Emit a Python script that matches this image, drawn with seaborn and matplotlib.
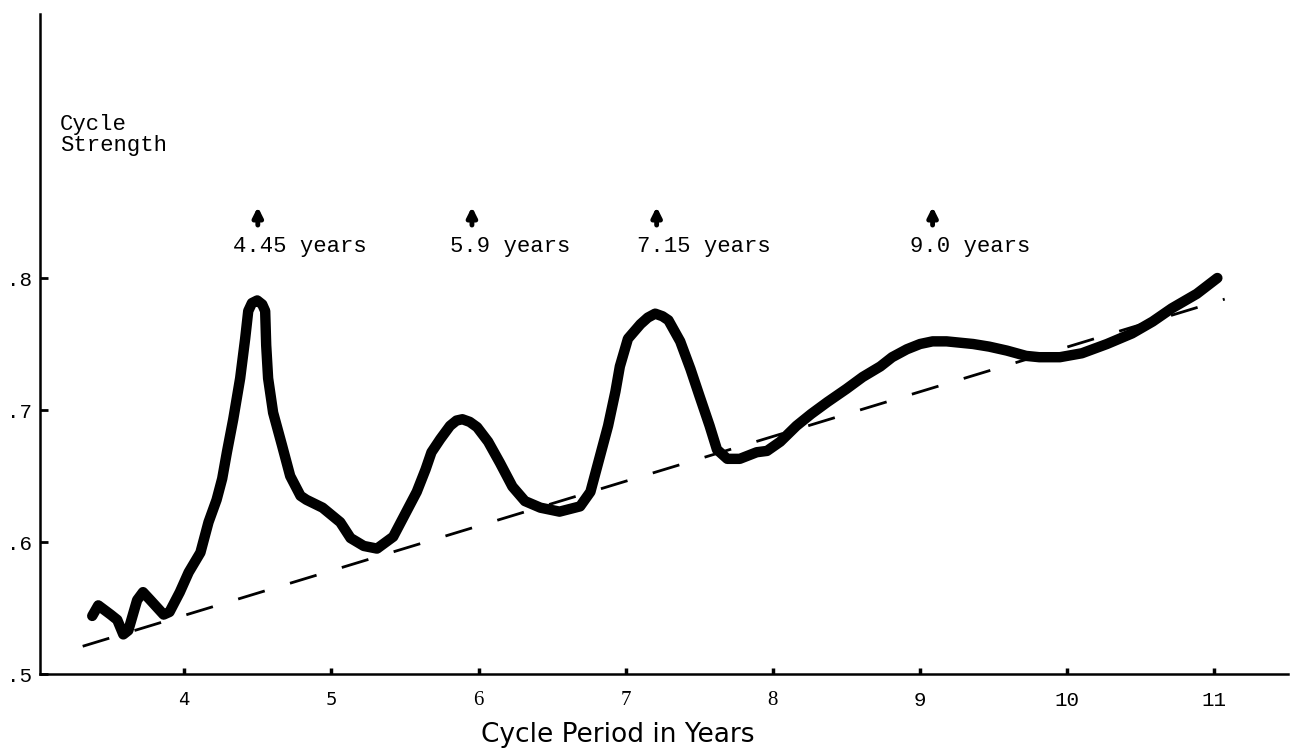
import matplotlib
matplotlib.use('Agg')
import matplotlib.pyplot as plt
import seaborn as sns

# values
period = [3.375, 3.416, 3.50, 3.545, 3.586, 3.62, 3.68, 3.72, 3.77, 3.86, 3.90, 3.97,
          4.03, 4.11, 4.165, 4.22, 4.258, 4.29, 4.333, 4.38, 4.414, 4.435, 4.46, 4.496,
          4.53, 4.55, 4.557, 4.57, 4.604, 4.665, 4.72, 4.79, 4.83, 4.94, 5.06, 5.13,
          5.22, 5.31, 5.42, 5.50, 5.58, 5.64, 5.68, 5.74, 5.806, 5.85, 5.89, 5.94,
          5.99, 6.065, 6.145, 6.23, 6.315, 6.42, 6.55, 6.69, 6.76, 6.82, 6.88, 6.93,
          6.96, 7.015, 7.10, 7.15, 7.20, 7.25, 7.29, 7.37, 7.44, 7.50, 7.57, 7.62,
          7.69, 7.775, 7.89, 7.96, 8.05, 8.16, 8.26, 8.37, 8.50, 8.61, 8.73, 8.81,
          8.91, 9.00, 9.085, 9.18, 9.36, 9.47, 9.59, 9.72, 9.81, 9.95, 10.10, 10.27,
          10.44, 10.58, 10.71, 10.88, 11.02]
strength = [0.544, 0.552, 0.545, 0.541, 0.530, 0.533, 0.556, 0.562, 0.556, 0.545, 0.547, 0.562,
            0.577, 0.592, 0.615, 0.632, 0.648, 0.668, 0.693, 0.724, 0.754, 0.775, 0.781, 0.783,
            0.780, 0.775, 0.749, 0.724, 0.698, 0.673, 0.650, 0.635, 0.632, 0.626, 0.615, 0.603,
            0.597, 0.595, 0.604, 0.621, 0.638, 0.655, 0.668, 0.678, 0.688, 0.692, 0.693, 0.691,
            0.687, 0.676, 0.660, 0.642, 0.631, 0.626, 0.623, 0.627, 0.638, 0.663, 0.688, 0.714,
            0.733, 0.754, 0.765, 0.770, 0.773, 0.771, 0.768, 0.752, 0.731, 0.711, 0.688, 0.670,
            0.663, 0.663, 0.668, 0.669, 0.676, 0.688, 0.697, 0.706, 0.716, 0.725, 0.733, 0.740,
            0.746, 0.750, 0.752, 0.752, 0.750, 0.748, 0.745, 0.741, 0.740, 0.740, 0.743, 0.750,
            0.758, 0.767, 0.777, 0.788, 0.800]

trend_period = [3.31, 11.07]
trend_strength = [0.521, 0.784]

peak_labels = ['4.45 years', '5.9 years', '7.15 years', '9.0 years']
peak_arrow_x = [4.50, 5.955, 7.21, 9.085]
peak_text_x = [4.333, 5.806, 7.075, 8.929]

x_ticks = [4, 5, 6, 7, 8, 9, 10, 11]
y_ticks = [0.5, 0.6, 0.7, 0.8]
y_tick_labels = ['.5', '.6', '.7', '.8']

sns.set_style('ticks')
plt.rcParams['text.color'] = 'black'
plt.rcParams['xtick.color'] = 'black'
plt.rcParams['ytick.color'] = 'black'
plt.rcParams['axes.labelcolor'] = 'black'
mono = 'Liberation Mono'

fig = plt.figure(figsize=(12.91, 7.52), dpi=100)
ax = fig.add_axes([40 / 1291, 78 / 752, 1248 / 1291, 660 / 752])

# dashed trend line
sns.lineplot(x=trend_period, y=trend_strength, ax=ax, color='black', lw=2,
             dashes=False, linestyle=(0, (10, 9.5)))
# heavy hand-drawn curve
sns.lineplot(x=period, y=strength, ax=ax, color='black', lw=7.5, sort=False)
ax.lines[-1].set_solid_capstyle('round')
ax.lines[-1].set_solid_joinstyle('round')

ax.set_xlim(3.02, 11.5)
ax.set_ylim(0.5, 1.0)

ax.set_xticks(x_ticks)
ax.set_xticklabels([str(t) for t in x_ticks])
ax.set_yticks(y_ticks)
ax.set_yticklabels(y_tick_labels, fontfamily=mono, fontsize=15)
ax.tick_params(axis='x', direction='in', length=4, width=2.5, pad=12, labelsize=13,
               colors='black')
ax.tick_params(axis='y', direction='in', length=6, width=2, pad=6, colors='black')

# the original axis labels were typed in a mix of fonts
for lab in ax.get_xticklabels():
    t = lab.get_text()
    if t in ('4', '5'):
        lab.set_fontfamily('DejaVu Sans')
    elif t in ('6', '7', '8'):
        lab.set_fontfamily('Liberation Serif')
        lab.set_fontsize(15)
    else:
        lab.set_fontfamily(mono)
        lab.set_fontsize(15)

for side in ['top', 'right']:
    ax.spines[side].set_visible(False)
for side in ['left', 'bottom']:
    ax.spines[side].set_linewidth(1.8)
    ax.spines[side].set_color('black')

ax.set_xlabel('Cycle Period in Years', fontsize=19, fontfamily='DejaVu Sans', color='black')
ax.xaxis.set_label_coords(0.463, -0.072)
ax.set_ylabel('')

ax.text(0.016, 0.848, 'Cycle\nStrength', transform=ax.transAxes, fontfamily=mono,
        fontsize=16, va='top', ha='left', linespacing=1.0, color='black')

# peak markers
for lbl, ax_x, tx in zip(peak_labels, peak_arrow_x, peak_text_x):
    ax.annotate('', xy=(ax_x, 0.856), xytext=(ax_x, 0.838),
                arrowprops=dict(arrowstyle='-|>', lw=3.5, color='black', mutation_scale=14))
    ax.text(tx, 0.820, lbl, fontfamily=mono, fontsize=16, va='baseline', ha='left',
            color='black')

plt.savefig('out.png', dpi=100)
